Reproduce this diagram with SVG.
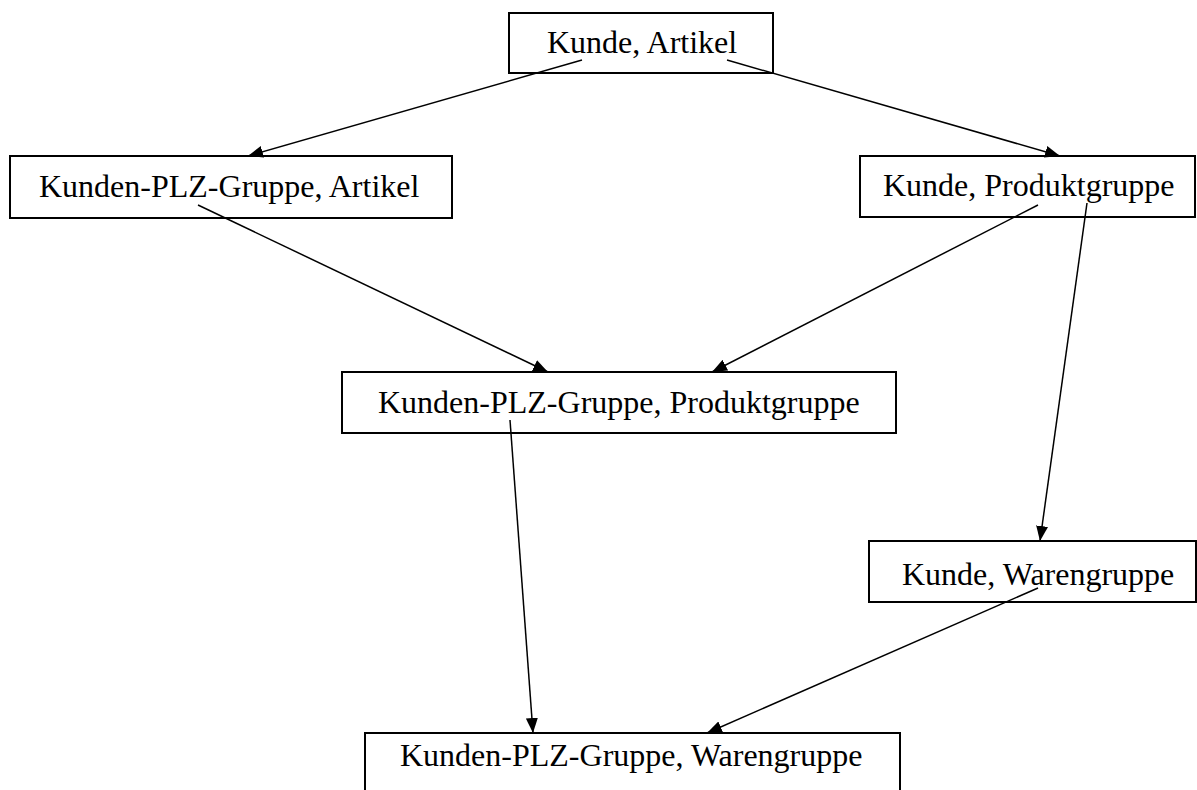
<svg xmlns="http://www.w3.org/2000/svg" width="1197" height="790" viewBox="0 0 1197 790">
<style>
.box{fill:#fff;stroke:#000;stroke-width:2}
.lbl{font-family:"Liberation Serif","Times New Roman",serif;font-size:32px;fill:#000}
.edge{stroke:#000;stroke-width:1.5;fill:none;marker-end:url(#ah)}
</style>
<defs>
<marker id="ah" markerUnits="userSpaceOnUse" markerWidth="16" markerHeight="12" refX="15" refY="6" orient="auto">
<path d="M0,0 L15,6 L0,12 z" fill="#000"/>
</marker>
</defs>
<rect width="1197" height="790" fill="#fff"/>
<g id="n1"><rect class="box" x="509" y="13" width="264" height="60"/><text class="lbl" x="547" y="53">Kunde, Artikel</text></g>
<g id="n2"><rect class="box" x="10" y="156" width="442" height="62"/><text class="lbl" x="39" y="197">Kunden-PLZ-Gruppe, Artikel</text></g>
<g id="n3"><rect class="box" x="860" y="156" width="335" height="61"/><text class="lbl" x="883" y="196">Kunde, Produktgruppe</text></g>
<g id="n4"><rect class="box" x="342" y="372" width="554" height="61"/><text class="lbl" x="378" y="413">Kunden-PLZ-Gruppe, Produktgruppe</text></g>
<g id="n5"><rect class="box" x="869" y="541" width="327" height="61"/><text class="lbl" x="902" y="585">Kunde, Warengruppe</text></g>
<g id="n6"><rect class="box" x="365" y="733" width="535" height="62"/><text class="lbl" x="400" y="766">Kunden-PLZ-Gruppe, Warengruppe</text></g>
<g id="connectors">
<line class="edge" x1="582" y1="60" x2="248" y2="156"/>
<line class="edge" x1="727" y1="60" x2="1060" y2="156"/>
<line class="edge" x1="198" y1="205" x2="548" y2="372"/>
<line class="edge" x1="1038" y1="205" x2="712" y2="372"/>
<line class="edge" x1="1087" y1="203" x2="1040" y2="541"/>
<line class="edge" x1="510" y1="420" x2="533" y2="733"/>
<line class="edge" x1="1038" y1="588" x2="707" y2="733"/>
</g>
</svg>
